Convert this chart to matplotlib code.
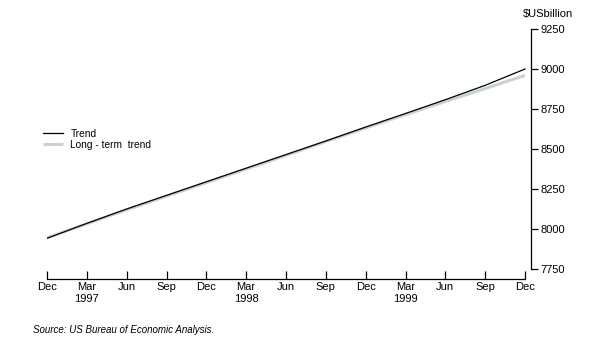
import matplotlib
matplotlib.use("Agg")
import matplotlib.pyplot as plt

plt.rcParams['font.family'] = ['Liberation Sans', 'DejaVu Sans']

# Quarterly GDP, Dec 1996 to Dec 1999 ($US billion)
quarters = ["Dec", "Mar", "Jun", "Sep", "Dec", "Mar", "Jun", "Sep",
            "Dec", "Mar", "Jun", "Sep", "Dec"]
years = ["1997", "1998", "1999"]
trend = [7942, 8035, 8125, 8210, 8295, 8380, 8465, 8550,
         8637, 8722, 8808, 8898, 9000]
long_term_trend = [7945, 8033, 8120, 8205, 8290, 8375, 8460, 8547,
                   8632, 8715, 8797, 8878, 8960]
y_ticks = [7750, 8000, 8250, 8500, 8750, 9000, 9250]

W, H = 598, 350
fig = plt.figure(figsize=(W / 100, H / 100), dpi=100)
x0, x_end, x_spine = 47, 525, 531
y_top, y_bot = 29, 269
ax = fig.add_axes([x0 / W, 1 - y_bot / H, (x_spine - x0) / W, (y_bot - y_top) / H])

x = list(range(len(quarters)))
ax.plot(x, long_term_trend, color="#c8d2d2", lw=2.2, label="Long - term  trend", solid_capstyle="butt")
ax.plot(x, trend, color="black", lw=0.9, label="Trend")

n = len(quarters) - 1
ax.set_xlim(0, n * (x_spine - x0) / (x_end - x0))
ax.set_ylim(7750, 9250)

for s in ["top", "left"]:
    ax.spines[s].set_visible(False)
ax.spines["bottom"].set_position(("outward", 7))
ax.spines["bottom"].set_bounds(0, n)
ax.spines["right"].set_bounds(7750, 9250)
for s in ["bottom", "right"]:
    ax.spines[s].set_linewidth(0.9)

ax.set_xticks(x)
ax.set_xticklabels(quarters, fontsize=8)
ax.tick_params(axis="x", direction="in", length=6, width=0.9, pad=2)
ax.yaxis.tick_right()
ax.set_yticks(y_ticks)
ax.set_yticklabels([str(v) for v in y_ticks], fontsize=8)
ax.tick_params(axis="y", direction="out", length=5, width=0.9, pad=2)

# Year labels under March of each year
for i, yr in enumerate(years):
    xi = 1 + 4 * i
    fig.text((x0 + xi * (x_end - x0) / n) / W, 1 - 299 / H, yr,
             fontsize=8, ha="center", va="center")

fig.text(573 / W, 1 - 14 / H, "$USbillion", fontsize=8, ha="right", va="center")

# Legend
handles, labels = ax.get_legend_handles_labels()
leg = ax.legend(handles[::-1], labels[::-1], loc="upper left",
                bbox_to_anchor=((43 - x0) / (x_spine - x0), 1 - (129 - y_top) / (y_bot - y_top)),
                frameon=False, fontsize=7.3, handlelength=2.0, handletextpad=0.7,
                labelspacing=0.1, borderpad=0, borderaxespad=0)

fig.text(33 / W, 1 - 330 / H, "Source: US Bureau of Economic Analysis.",
         fontsize=7, style="italic", ha="left", va="center")

fig.savefig("out.png", dpi=100)
